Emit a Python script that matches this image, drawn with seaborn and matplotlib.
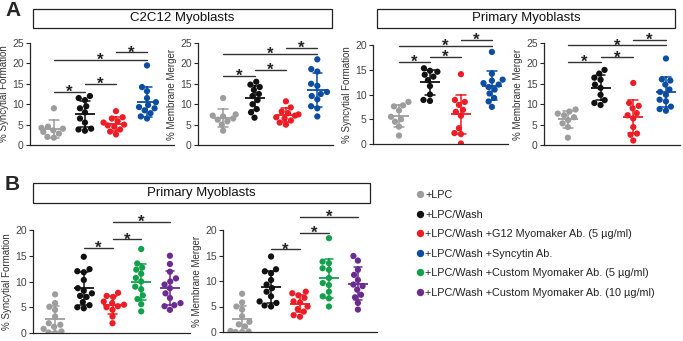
import warnings

import numpy as np
import pandas as pd
import matplotlib
matplotlib.use("Agg")
import matplotlib.pyplot as plt
from matplotlib.patches import Rectangle
from matplotlib.lines import Line2D
import seaborn as sns

warnings.filterwarnings("ignore")

# Groups and colours
GROUPS = [
    "+LPC",
    "+LPC/Wash",
    "+LPC/Wash +G12 Myomaker Ab. (5 µg/ml)",
    "+LPC/Wash +Syncytin Ab.",
    "+LPC/Wash +Custom Myomaker Ab. (5 µg/ml)",
    "+LPC/Wash +Custom Myomaker Ab. (10 µg/ml)",
]
COLORS = ["#9d9d9d", "#111111", "#ee1c25", "#0c4da2", "#12a14b", "#6b2c91"]

# --- Panel A, C2C12, % syncytial formation
c2c12_syn_lpc = [9.0, 4.5, 4.2, 4.0, 3.6, 3.2, 2.8, 2.0, 1.8]
c2c12_syn_wash = [12.0, 11.5, 11.0, 9.5, 9.0, 8.0, 6.5, 5.5, 4.0, 3.8, 3.5]
c2c12_syn_g12 = [8.3, 6.8, 6.5, 5.8, 5.5, 5.0, 4.8, 4.5, 3.8, 3.3, 2.6]
c2c12_syn_syncytin = [19.5, 14.2, 13.2, 11.5, 10.5, 9.8, 9.3, 9.0, 8.5, 7.8, 7.0, 6.5]

# --- Panel A, C2C12, % membrane merger
c2c12_mem_lpc = [11.5, 7.5, 7.2, 7.0, 6.5, 6.2, 5.8, 5.0, 3.5]
c2c12_mem_wash = [15.5, 14.8, 14.2, 13.5, 12.5, 12.0, 11.0, 10.0, 8.8, 8.0, 6.7]
c2c12_mem_g12 = [10.7, 9.2, 8.2, 7.8, 7.5, 7.2, 6.8, 6.5, 6.0, 5.5, 5.0]
c2c12_mem_syncytin = [21.0, 18.6, 18.0, 15.0, 14.5, 13.0, 12.5, 12.0, 11.2, 9.5, 9.0, 7.0]

# --- Panel A, primary, % syncytial formation
prim_syn_lpc = [8.5, 7.8, 7.6, 6.8, 5.5, 5.0, 4.5, 3.5, 1.7]
prim_syn_wash = [15.3, 14.8, 14.6, 14.0, 13.6, 12.9, 11.7, 10.0, 8.9, 8.7]
prim_syn_g12 = [14.1, 8.9, 8.5, 7.9, 6.9, 6.5, 5.7, 3.2, 2.2, 2.0, 0.1]
prim_syn_syncytin = [18.6, 14.2, 13.0, 12.8, 12.3, 12.0, 11.5, 11.0, 10.2, 9.3, 8.6, 7.5]

# --- Panel A, primary, % membrane merger
prim_mem_lpc = [8.7, 8.2, 7.7, 7.3, 6.8, 6.1, 5.3, 4.4, 1.8]
prim_mem_wash = [18.4, 17.5, 16.5, 16.0, 14.8, 14.0, 12.3, 11.0, 10.3, 9.8]
prim_mem_g12 = [15.2, 10.3, 9.6, 9.0, 7.8, 7.3, 6.5, 4.4, 2.8, 2.5, 1.1]
prim_mem_syncytin = [21.2, 16.1, 15.8, 14.8, 13.6, 13.0, 12.3, 11.1, 10.7, 9.4, 8.8, 8.4]

# --- Panel B, primary, % syncytial formation
b_syn_lpc = [7.5, 5.8, 5.1, 4.5, 3.2, 1.9, 1.6, 1.2, 0.8, 0.3, 0.1, 0.0]
b_syn_wash = [14.8, 12.4, 12.0, 11.8, 10.3, 8.2, 8.7, 7.7, 7.2, 7.0, 6.0, 5.4, 5.0, 4.8]
b_syn_g12 = [7.8, 7.2, 7.0, 6.1, 5.8, 5.5, 5.2, 5.0, 4.5, 3.2, 1.9]
b_syn_custom5 = [16.3, 13.5, 12.7, 12.3, 11.5, 10.7, 10.0, 9.0, 8.5, 7.3, 6.6, 5.6, 4.2]
b_syn_custom10 = [15.0, 13.4, 11.9, 10.6, 10.0, 9.4, 8.7, 7.7, 6.8, 5.8, 5.4, 5.2, 4.5]

# --- Panel B, primary, % membrane merger
b_mem_lpc = [7.5, 5.8, 5.0, 4.4, 3.1, 2.0, 1.5, 1.1, 0.2, 0.1, 0.0, 0.0]
b_mem_wash = [14.8, 12.3, 11.9, 11.5, 10.2, 9.3, 8.6, 7.9, 7.0, 6.0, 5.7, 5.2, 5.0]
b_mem_g12 = [7.9, 7.6, 7.2, 6.7, 6.0, 5.8, 5.0, 4.5, 4.0, 3.3, 3.0]
b_mem_custom5 = [18.4, 13.8, 13.5, 12.5, 12.2, 10.6, 9.6, 9.2, 7.9, 7.0, 6.6, 5.0]
b_mem_custom10 = [14.9, 14.0, 12.2, 11.2, 10.2, 9.3, 9.0, 8.3, 7.3, 6.8, 5.7, 4.4]

# Significance bars: (group index a, group index b, height)
sig_c2c12_syn = [(0, 1, 13.1), (1, 2, 15.0), (0, 3, 20.9), (2, 3, 22.7)]
sig_c2c12_mem = [(0, 1, 17.0), (1, 2, 18.5), (0, 3, 22.3), (2, 3, 23.8)]
sig_prim_syn = [(0, 1, 16.6), (1, 2, 17.6), (0, 3, 19.8), (2, 3, 21.0)]
sig_prim_mem = [(0, 1, 20.4), (1, 2, 21.5), (0, 3, 24.4), (2, 3, 25.7)]
sig_b_syn = [(1, 2, 16.6), (2, 4, 18.2), (2, 5, 21.6)]
sig_b_mem = [(1, 2, 16.2), (2, 4, 19.5), (2, 5, 22.6)]

SYN = "% Syncytial Formation"
MEM = "% Membrane Merger"


def draw_panel(ax, idx, values, ylabel, ymax, xlim, sig):
    groups = [GROUPS[i] for i in idx]
    colors = [COLORS[i] for i in idx]
    df = pd.DataFrame({
        "group": np.repeat(groups, [len(v) for v in values]),
        "value": np.concatenate(values),
    })
    sns.swarmplot(data=df, x="group", y="value", hue="group", order=groups,
                  hue_order=groups, palette=colors, size=4.5, legend=False,
                  ax=ax, zorder=2)
    sns.pointplot(data=df, x="group", y="value", hue="group", order=groups,
                  hue_order=groups, palette=colors, errorbar="sd", capsize=0.3,
                  marker="_", markersize=14, markeredgewidth=1.3, linestyle="none",
                  err_kws={"linewidth": 1.1}, legend=False, ax=ax)
    for ln in ax.lines:
        ln.set_zorder(3)
    pos = {g: k for k, g in enumerate(idx)}
    for a, b, y in sig:
        xa, xb = pos[a], pos[b]
        ax.plot([xa, xb], [y, y], color="#333333", lw=1.0, clip_on=False, zorder=4)
        ax.annotate("*", xy=((xa + xb) / 2, y), xytext=(0, -3.6), textcoords="offset points",
                    ha="center", va="baseline", fontsize=12, fontweight="bold",
                    color="#222222", annotation_clip=False)
    ax.set_xlim(*xlim)
    ax.set_ylim(0, ymax)
    ax.set_yticks(np.arange(0, ymax + 1, 5))
    ax.set_xticks([])
    ax.set_xlabel("")
    ax.set_ylabel(ylabel, fontsize=7, labelpad=2, color="#333333")
    ax.tick_params(axis="y", labelsize=7.5, length=3, width=0.8, pad=1.5, labelcolor="#444444")
    sns.despine(ax=ax)
    for s in ("left", "bottom"):
        ax.spines[s].set_linewidth(0.9)


sns.set_theme(style="ticks")
plt.rcParams["font.family"] = ["Liberation Sans", "DejaVu Sans"]

W, H = 683, 341
fig = plt.figure(figsize=(W / 100, H / 100), dpi=100)


def px_axes(x0, x1, ytop, ybot):
    return fig.add_axes([x0 / W, 1 - ybot / H, (x1 - x0) / W, (ybot - ytop) / H])


# Panel A
ax = px_axes(30, 174, 43, 145)
draw_panel(ax, [0, 1, 2, 3], [c2c12_syn_lpc, c2c12_syn_wash, c2c12_syn_g12, c2c12_syn_syncytin],
           SYN, 25, (-0.77, 3.87), sig_c2c12_syn)
ax = px_axes(198, 333, 43, 145)
draw_panel(ax, [0, 1, 2, 3], [c2c12_mem_lpc, c2c12_mem_wash, c2c12_mem_g12, c2c12_mem_syncytin],
           MEM, 25, (-0.8, 3.5), sig_c2c12_mem)
ax = px_axes(373, 508, 45, 144)
draw_panel(ax, [0, 1, 2, 3], [prim_syn_lpc, prim_syn_wash, prim_syn_g12, prim_syn_syncytin],
           SYN, 20, (-0.84, 3.52), sig_prim_syn)
ax = px_axes(544, 680, 43, 145)
draw_panel(ax, [0, 1, 2, 3], [prim_mem_lpc, prim_mem_wash, prim_mem_g12, prim_mem_syncytin],
           MEM, 25, (-0.73, 3.43), sig_prim_mem)

# Panel B
ax = px_axes(33, 190, 230, 333)
draw_panel(ax, [0, 1, 2, 4, 5], [b_syn_lpc, b_syn_wash, b_syn_g12, b_syn_custom5, b_syn_custom10],
           SYN, 20, (-0.77, 4.7), sig_b_syn)
ax = px_axes(223, 377, 230, 332)
draw_panel(ax, [0, 1, 2, 4, 5], [b_mem_lpc, b_mem_wash, b_mem_g12, b_mem_custom5, b_mem_custom10],
           MEM, 20, (-0.66, 4.66), sig_b_mem)

# Title boxes
for x0, x1, y0, y1, label in [(33, 332, 9, 28, "C2C12 Myoblasts"),
                              (377, 675, 9, 28, "Primary Myoblasts"),
                              (33, 370, 183, 203, "Primary Myoblasts")]:
    fig.patches.append(Rectangle((x0 / W, 1 - y1 / H), (x1 - x0) / W, (y1 - y0) / H,
                                 transform=fig.transFigure, fill=False,
                                 edgecolor="#222222", linewidth=0.9))
    fig.text((x0 + x1) / 2 / W, 1 - (y0 + y1) / 2 / H, label, ha="center", va="center",
             fontsize=9.5, color="#111111")

fig.text(5 / W, 1 - 11 / H, "A", fontsize=15, fontweight="bold", va="center", ha="left")
fig.text(5 / W, 1 - 185 / H, "B", fontsize=15, fontweight="bold", va="center", ha="left")

# Legend
handles = [Line2D([], [], marker="o", linestyle="none", markersize=4.3, color=c) for c in COLORS]
fig.legend(handles, GROUPS, loc="upper left", bbox_to_anchor=(417 / W, 1 - 190 / H),
           frameon=False, fontsize=7.8, handlelength=0.6, handletextpad=0.15,
           labelspacing=0.88, borderpad=0, borderaxespad=0, labelcolor="#222222")

fig.savefig("out.png", dpi=100)
